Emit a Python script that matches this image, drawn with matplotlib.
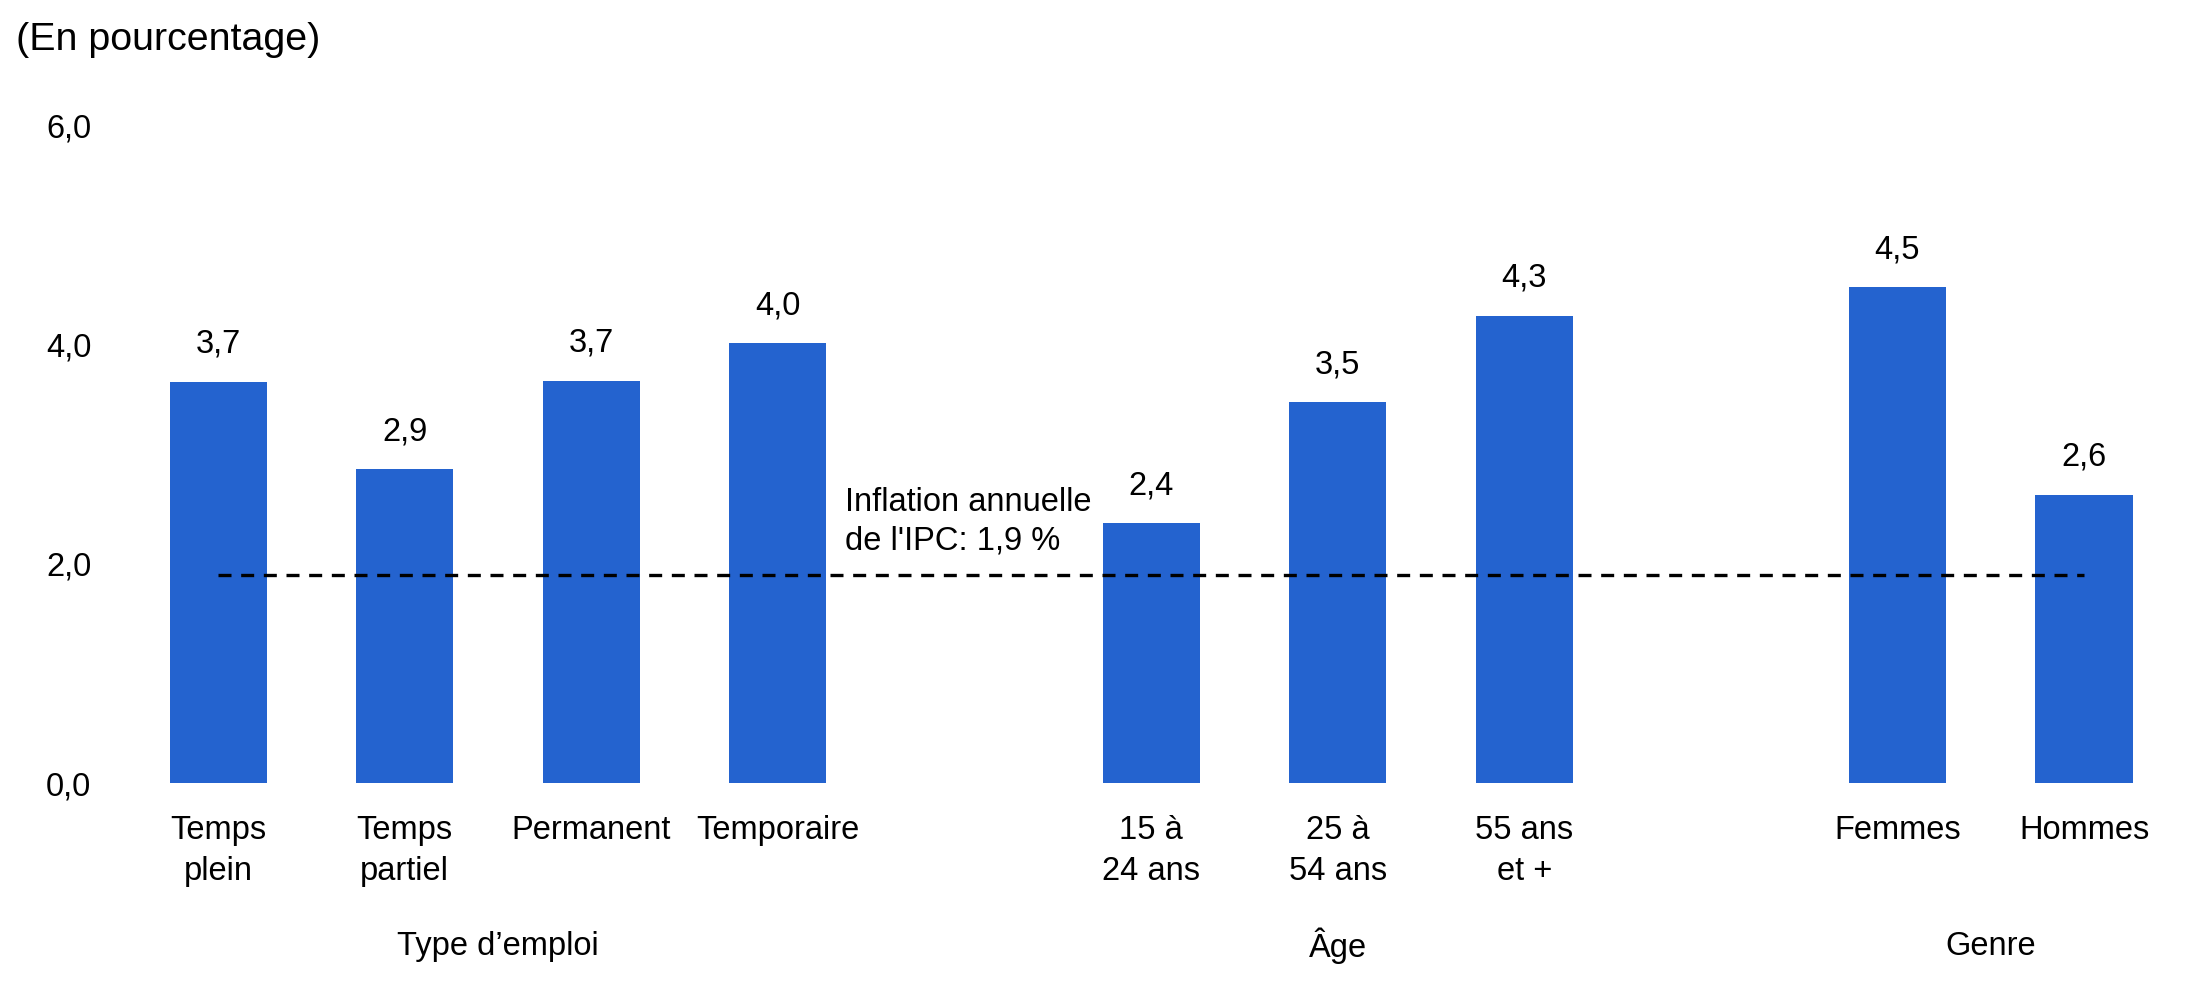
import numpy as np
import matplotlib
matplotlib.use("Agg")
import matplotlib.pyplot as plt
import matplotlib.transforms as mtransforms

plt.rcParams['font.family'] = ['Liberation Sans', 'DejaVu Sans']

# data
categories = ["Temps\nplein", "Temps\npartiel", "Permanent", "Temporaire",
              "15 à\n24 ans", "25 à\n54 ans", "55 ans\net +",
              "Femmes", "Hommes"]
values = [3.66, 2.86, 3.67, 4.01, 2.37, 3.47, 4.26, 4.52, 2.63]
groups = ["Type d’emploi", "Âge", "Genre"]
group_sizes = [4, 3, 2]
inflation = 1.9
inflation_label = "Inflation annuelle\nde l'IPC: 1,9 %"
yticks = [0, 2, 4, 6]
ytick_labels = ["0,0", "2,0", "4,0", "6,0"]
unit_label = "(En pourcentage)"

BLUE = "#2463CF"
FS = 23.5


def fmt(v):
    return f"{v:.1f}".replace(".", ",")


def main():
    # positions with one empty slot between groups
    pos = []
    centers = []
    start = 0
    for n in group_sizes:
        p = list(range(start, start + n))
        pos += p
        centers.append(np.mean(p))
        start += n + 1
    pos = np.array(pos)

    fig = plt.figure(figsize=(21.92, 9.98), dpi=100)
    ax = fig.add_axes([0.0569, 0.2154, 0.9364, 0.6593])

    ax.bar(pos, values, width=0.52, color=BLUE)
    for x, v in zip(pos, values):
        ax.annotate(fmt(v), (x, v), xytext=(0, 27), textcoords="offset points",
                    ha="center", va="center", fontsize=FS)

    ax.plot([pos[0], pos[-1]], [inflation, inflation], color="black",
            lw=2.4, dashes=(3.9, 2.9))
    ax.text(3.36, 2.38, inflation_label, ha="left", va="center",
            fontsize=FS, linespacing=1.32)

    ax.set_xlim(-0.5, 10.5)
    ax.set_ylim(0, 6)
    ax.set_yticks(yticks)
    ax.set_yticklabels(ytick_labels, fontsize=FS)
    ax.set_xticks(pos)
    ax.set_xticklabels(categories, fontsize=FS, linespacing=1.42)
    ax.tick_params(axis="y", length=0, pad=24)
    ax.tick_params(axis="x", length=0, pad=23)
    for s in ax.spines.values():
        s.set_visible(False)

    trans = mtransforms.blended_transform_factory(ax.transData, ax.transAxes)
    for c, g in zip(centers, groups):
        ax.text(c, -0.2477, g, transform=trans, ha="center", va="center",
                fontsize=FS)

    fig.text(16 / 2192, 1 - 40 / 998, unit_label, ha="left", va="center",
             fontsize=28.4)

    fig.savefig("out.png", dpi=100)


main()
